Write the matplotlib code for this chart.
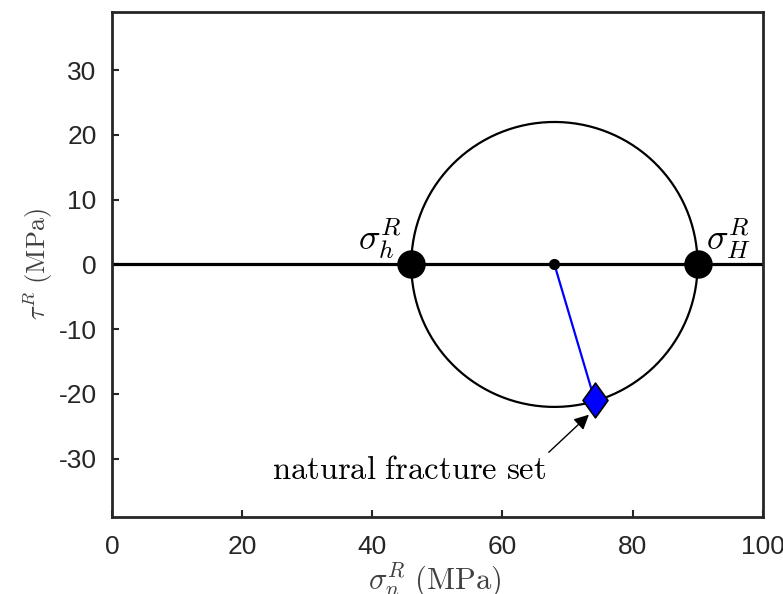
import numpy as np
import matplotlib
matplotlib.use("Agg")
import matplotlib.pyplot as plt
from matplotlib.path import Path

plt.rcParams['mathtext.fontset'] = 'cm'
plt.rcParams['font.family'] = ['Liberation Sans', 'DejaVu Sans']
plt.rcParams['axes.unicode_minus'] = False

# principal stresses (MPa) and fracture point on the Mohr circle
sigma_h = 46.0
sigma_H = 90.0
frac_sn = 74.2
frac_tau = -21.0
xlim = [0, 100]
ylim = [-39, 39]
xticks = [0, 20, 40, 60, 80, 100]
yticks = [-30, -20, -10, 0, 10, 20, 30]

center = (sigma_h + sigma_H) / 2
radius = (sigma_H - sigma_h) / 2
theta = np.linspace(0, 2 * np.pi, 400)

# matlab-like diamond (taller than wide)
diamond = Path([(0, 1), (0.72, 0), (0, -1), (-0.72, 0), (0, 1)],
               [Path.MOVETO, Path.LINETO, Path.LINETO, Path.LINETO, Path.CLOSEPOLY])

fig = plt.figure(figsize=(7.83, 5.94), dpi=100)
ax = fig.add_axes([0.143, 0.1296, 0.831, 0.8504])

ax.plot(xlim, [0, 0], color='black', lw=2.3, zorder=2)
ax.plot(center + radius * np.cos(theta), radius * np.sin(theta), color='black', lw=1.6, zorder=2)
ax.plot([center, frac_sn], [0, frac_tau], color='blue', lw=1.6, zorder=3)
ax.plot([center], [0], 'o', color='black', ms=7, zorder=4)
ax.plot([sigma_h, sigma_H], [0, 0], 'o', color='black', ms=19.5, zorder=4)
ax.plot([frac_sn], [frac_tau], marker=diamond, mfc='blue', mec='black', mew=1.2, ms=25, zorder=5)

ax.text(44.6, 2.2, r'$\sigma_h^R$', fontsize=26, ha='right', va='baseline', zorder=3)
ax.text(91.3, 2.2, r'$\sigma_H^R$', fontsize=26, ha='left', va='baseline', zorder=3)

ax.annotate(r'$\mathrm{natural\ fracture\ set}$', xy=(frac_sn - 0.9, frac_tau - 2.2),
            xytext=(66.7, -31.8), fontsize=23.5, ha='right', va='center',
            arrowprops=dict(arrowstyle='-|>', color='black', lw=1.0, mutation_scale=22,
                            shrinkA=0, shrinkB=0, relpos=(1.0, 1.0)))

ax.set_xlim(xlim)
ax.set_ylim(ylim)
ax.set_xticks(xticks)
ax.set_yticks(yticks)
ax.tick_params(direction='in', length=5, width=1.5, labelsize=19, colors='#262626')
ax.tick_params(axis='x', pad=13)
ax.tick_params(axis='y', pad=11)
for sp in ax.spines.values():
    sp.set_linewidth(2)
    sp.set_color('#262626')

ax.set_xlabel(r'$\sigma_n^R\ \mathrm{(MPa)}$', fontsize=22, color='#404040')
ax.set_ylabel(r'$\tau^R\ \mathrm{(MPa)}$', fontsize=19, color='#404040')
ax.xaxis.set_label_coords(0.496, -0.086)
ax.yaxis.set_label_coords(-0.087, 0.5)

fig.savefig('out.png', dpi=100)
